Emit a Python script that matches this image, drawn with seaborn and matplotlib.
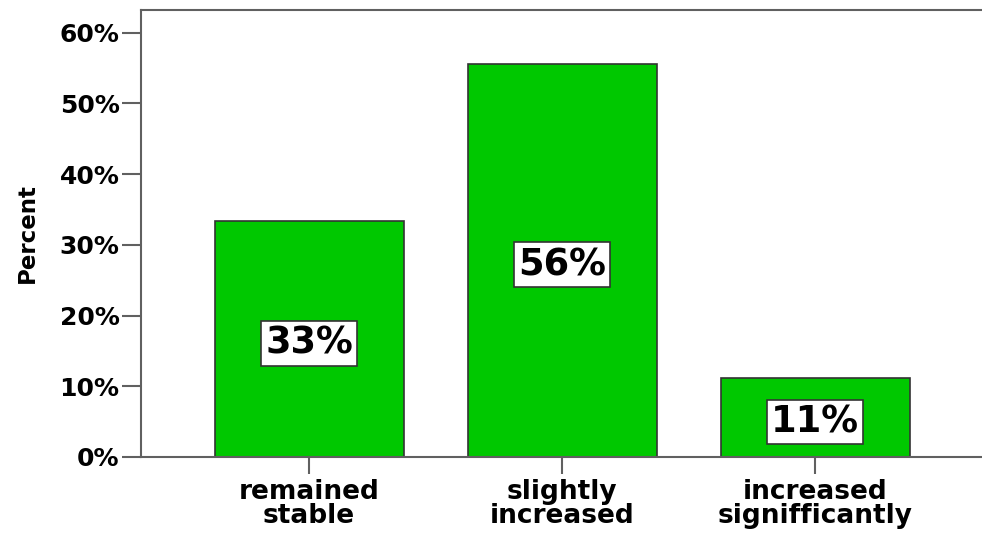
import matplotlib
matplotlib.use("Agg")
import matplotlib.pyplot as plt
import seaborn as sns
from matplotlib.ticker import FuncFormatter, FixedLocator

# Survey responses (percent of respondents)
categories = ["remained\nstable", "slightly\nincreased", "increased\nsignifficantly"]
percents = [33.3, 55.6, 11.1]
y_ticks = [0, 10, 20, 30, 40, 50, 60]

sns.set_theme(style="white")
plt.rcParams["font.family"] = ["DejaVu Sans"]
plt.rcParams["text.color"] = "black"
plt.rcParams["xtick.color"] = "black"
plt.rcParams["ytick.color"] = "black"
plt.rcParams["axes.labelcolor"] = "black"

fig = plt.figure(figsize=(9.82, 5.33), dpi=100)
ax = fig.add_axes([0.1436, 0.1426, 0.8564, 0.8386])

sns.barplot(x=categories, y=percents, color="#00C800", saturation=1,
            width=0.747, edgecolor="#333333", linewidth=1.2, ax=ax)

# value boxes centred in each bar
for i, v in enumerate(percents):
    ax.text(i, v / 2 - 0.6, f"{v:.0f}%", ha="center", va="center",
            fontsize=26.5, fontweight="bold", color="black",
            bbox=dict(boxstyle="square,pad=0.1", facecolor="white",
                      edgecolor="#333333", linewidth=1.2))

ax.set_xlim(-0.664, 2.66)
ax.set_ylim(0, 63.2)
ax.yaxis.set_major_locator(FixedLocator(y_ticks))
ax.yaxis.set_major_formatter(FuncFormatter(lambda v, _: f"{v:.0f}%"))

for side in ("left", "top", "bottom"):
    ax.spines[side].set_visible(True)
    ax.spines[side].set_color("#606060")
    ax.spines[side].set_linewidth(1.5)
ax.spines["right"].set_visible(False)

ax.tick_params(axis="y", which="major", left=True, length=14, width=1.5,
               color="#606060", labelcolor="black", pad=1.5, labelsize=18)
ax.tick_params(axis="x", which="major", bottom=True, length=12.5, width=1.5,
               color="#606060", labelcolor="black", pad=3, labelsize=19)
for lab in ax.get_yticklabels() + ax.get_xticklabels():
    lab.set_fontweight("bold")
for lab in ax.get_xticklabels():
    lab.set_linespacing(0.93)

ax.set_xlabel("")
ax.set_ylabel("Percent", fontsize=16.5, fontweight="bold", color="black",
              labelpad=15)

fig.savefig("out.png", dpi=100, facecolor="white")
